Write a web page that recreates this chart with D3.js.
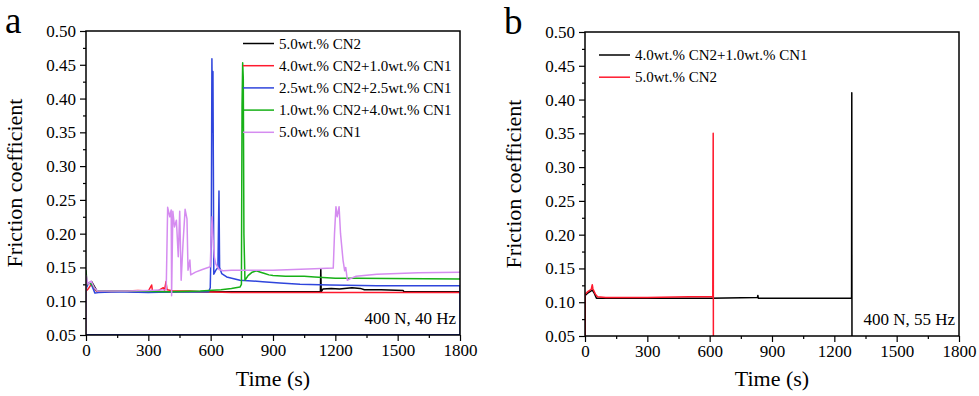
<!DOCTYPE html>
<html><head><meta charset="utf-8">
<script src="https://cdn.jsdelivr.net/npm/d3@7"></script>
<style>body{margin:0;background:#fff}svg{display:block}text{font-family:"Liberation Serif","Times New Roman",serif;fill:#000}</style>
</head><body><svg id="c" width="979" height="396"></svg>
<script>
const xTicks=[0,300,600,900,1200,1500,1800];
const yTicks=[0.05,0.10,0.15,0.20,0.25,0.30,0.35,0.40,0.45,0.50];
const xMinor=[150,450,750,1050,1350,1650];
const yMinor=[0.075,0.125,0.175,0.225,0.275,0.325,0.375,0.425,0.475];

const seriesA=["5.0wt.% CN2","4.0wt.% CN2+1.0wt.% CN1","2.5wt.% CN2+2.5wt.% CN1","1.0wt.% CN2+4.0wt.% CN1","5.0wt.% CN1"];
const colorsA=["#000000","#ff1a2e","#2f45dc","#17b017","#d58cf0"];
const a_cn2=[[0,0.12],[5,0.124],[15,0.127],[27,0.129],[40,0.122],[51,0.116],[80,0.115],[150,0.115],[250,0.114],[400,0.114],[600,0.114],[800,0.114],[1000,0.114],[1128,0.114],[1130,0.148],[1132,0.114],[1140,0.118],[1180,0.119],[1220,0.118],[1280,0.12],[1320,0.119],[1340,0.117],[1420,0.117],[1526,0.116],[1530,0.114],[1800,0.114]];
const a_41=[[0,0.115],[10,0.118],[25,0.125],[35,0.12],[50,0.115],[100,0.114],[200,0.115],[250,0.116],[300,0.115],[316,0.124],[320,0.115],[350,0.116],[372,0.12],[378,0.116],[385,0.129],[390,0.117],[420,0.115],[500,0.115],[560,0.114],[700,0.113],[1000,0.113],[1800,0.113]];
const a_2525=[[0,0.118],[8,0.124],[20,0.128],[30,0.122],[43,0.112],[60,0.113],[150,0.114],[300,0.113],[450,0.114],[590,0.114],[598,0.12],[603,0.2],[606,0.459],[609,0.35],[611,0.44],[613,0.3],[615,0.14],[625,0.146],[635,0.15],[640,0.263],[643,0.15],[653,0.141],[677,0.136],[741,0.131],[850,0.129],[933,0.127],[1030,0.125],[1174,0.124],[1400,0.123],[1800,0.123],[1800,0.0505],[0,0.0505]];
const a_14=[[0,0.146],[5,0.125],[20,0.127],[35,0.122],[50,0.116],[100,0.115],[200,0.115],[400,0.114],[550,0.115],[650,0.117],[700,0.119],[741,0.121],[748,0.125],[751,0.39],[754,0.453],[757,0.43],[760,0.2],[765,0.131],[780,0.138],[800,0.143],[820,0.145],[840,0.143],[860,0.141],[880,0.139],[900,0.138],[960,0.137],[1050,0.137],[1100,0.136],[1200,0.134],[1300,0.134],[1800,0.133]];
const a_cn1=[[0,0.05],[1,0.138],[10,0.125],[25,0.13],[40,0.12],[55,0.115],[100,0.115],[200,0.115],[300,0.116],[386,0.117],[393,0.239],[403,0.225],[410,0.235],[412,0.108],[418,0.233],[426,0.21],[435,0.22],[444,0.166],[451,0.233],[458,0.131],[467,0.186],[477,0.236],[486,0.222],[491,0.146],[500,0.161],[504,0.139],[527,0.143],[560,0.147],[598,0.151],[603,0.2],[607,0.225],[612,0.19],[618,0.165],[625,0.155],[640,0.147],[660,0.145],[700,0.146],[800,0.146],[900,0.146],[1000,0.147],[1100,0.148],[1190,0.149],[1196,0.2],[1203,0.24],[1209,0.225],[1218,0.24],[1225,0.2],[1237,0.161],[1245,0.145],[1250,0.15],[1258,0.131],[1270,0.133],[1300,0.137],[1400,0.14],[1500,0.141],[1600,0.142],[1800,0.143]];

const seriesB=["4.0wt.% CN2+1.0wt.% CN1","5.0wt.% CN2"];
const colorsB=["#000000","#ff1a2e"];
const b_41=[[0,0.0],[1,0.11],[15,0.114],[35,0.118],[45,0.113],[55,0.106],[100,0.106],[300,0.106],[600,0.106],[830,0.107],[832,0.11],[834,0.106],[1000,0.106],[1283,0.106],[1284,0.41],[1285,0.0]];
const b_cn2=[[0,0.0],[1,0.112],[15,0.116],[30,0.119],[35,0.126],[38,0.12],[50,0.112],[60,0.108],[100,0.107],[300,0.107],[500,0.108],[580,0.108],[615,0.108],[617,0.35],[618,0.0]];

const FF="'Liberation Serif','Times New Roman',serif";
const svg=d3.select("#c");
function panel(id,left,top,right,bottom,letter,letterY,series,colors,data,legX,legY,note){
  const g=svg.append("g");
  const x=d3.scaleLinear().domain([0,1800]).range([left,right]);
  const y=d3.scaleLinear().domain([0.05,0.5]).range([bottom,top]);
  g.append("clipPath").attr("id","clip"+id).append("rect").attr("x",left).attr("y",top).attr("width",right-left).attr("height",bottom-top);
  const line=d3.line().x(d=>x(d[0])).y(d=>y(d[1]));
  const pg=g.append("g").attr("clip-path","url(#clip"+id+")");
  data.forEach((d,i)=>pg.append("path").datum(d).attr("d",line).attr("fill","none").attr("stroke",colors[i]).attr("stroke-width",1.5).attr("stroke-linejoin","round"));
  g.append("g").attr("transform",`translate(0,${bottom})`).call(d3.axisBottom(x).tickValues(xTicks).tickFormat(d3.format("d")).tickSize(6).tickSizeOuter(0).tickPadding(3));
  g.append("g").attr("transform",`translate(0,${bottom})`).call(d3.axisBottom(x).tickValues(xMinor).tickFormat("").tickSize(3).tickSizeOuter(0));
  g.append("g").attr("transform",`translate(${left},0)`).call(d3.axisLeft(y).tickValues(yTicks).tickFormat(d3.format(".2f")).tickSize(6).tickSizeOuter(0).tickPadding(4));
  g.append("g").attr("transform",`translate(${left},0)`).call(d3.axisLeft(y).tickValues(yMinor).tickFormat("").tickSize(3).tickSizeOuter(0));
  g.selectAll(".domain").attr("stroke","none");
  g.selectAll(".tick line").attr("stroke","#000").attr("stroke-width",1.2);
  g.selectAll(".tick text").attr("font-family",FF).style("font-family",FF).style("font-size","17px").attr("fill","#000");
  g.append("rect").attr("x",left).attr("y",top).attr("width",right-left).attr("height",bottom-top).attr("fill","none").attr("stroke","#000").attr("stroke-width",1.5);
  g.append("text").attr("x",(left+right)/2).attr("y",386).attr("text-anchor","middle").style("font-family",FF).style("font-size","22px").text("Time (s)");
  g.append("text").attr("transform",`translate(${left-64},${(top+bottom)/2}) rotate(-90)`).attr("text-anchor","middle").style("font-family",FF).style("font-size","22px").text("Friction coefficient");
  g.append("text").attr("x",left-81).attr("y",letterY).style("font-family",FF).style("font-size","37px").text(letter);
  series.forEach((s,i)=>{
    const yy=legY+i*22.2;
    g.append("line").attr("x1",legX).attr("x2",legX+31).attr("y1",yy).attr("y2",yy).attr("stroke",colors[i]).attr("stroke-width",1.5);
    g.append("text").attr("x",legX+36).attr("y",yy+5).style("font-family",FF).style("font-size","15px").text(s);
  });
  g.append("text").attr("x",right-4).attr("y",bottom-11).attr("text-anchor","end").style("font-family",FF).style("font-size","17px").text(note);
}
panel("a",86,31,460,335,"a",33,seriesA,colorsA,[a_cn2,a_41,a_2525,a_14,a_cn1],243,43.5,"400 N, 40 Hz");
panel("b",585,32,959,336,"b",34,seriesB,colorsB,[b_41,b_cn2],599,55,"400 N, 55 Hz");
</script></body></html>
